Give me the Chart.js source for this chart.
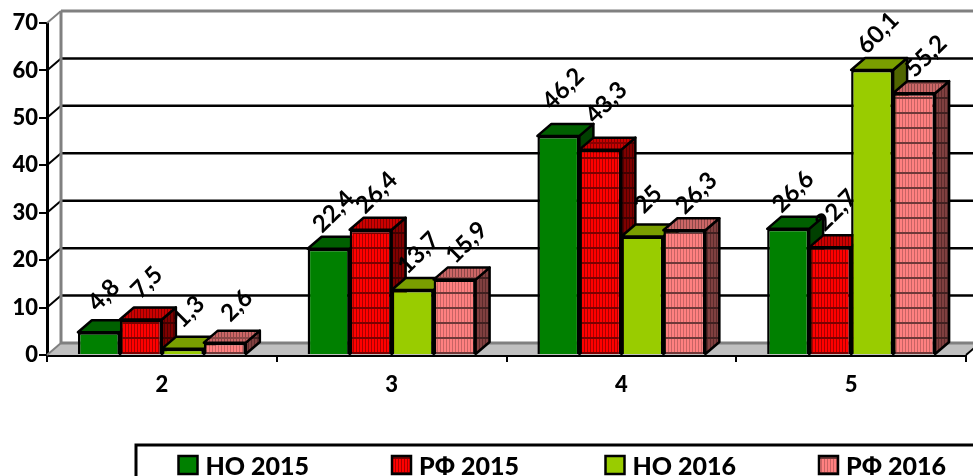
<!DOCTYPE html>
<html>
<head>
<meta charset="utf-8">
<style>
    html, body { margin: 0; padding: 0; background: #fff; overflow: hidden; }
    canvas { display: block; }
</style>
<script src="https://cdn.jsdelivr.net/npm/chart.js@4/dist/chart.umd.min.js"></script>
</head>
<body>
<canvas id="dataChart" width="973" height="476"></canvas>
<script>
const categories = ['2', '3', '4', '5'];
const seriesNames = ['НО 2015', 'РФ 2015', 'НО 2016', 'РФ 2016'];
const no2015 = [4.8, 22.4, 46.2, 26.6];
const rf2015 = [7.5, 26.4, 43.3, 22.7];
const no2016 = [1.3, 13.7, 25, 60.1];
const rf2016 = [2.6, 15.9, 26.3, 55.2];

const FONT = 'Lato, "Noto Sans", sans-serif';
//depth of the fake 3d box
const DX = 14;
const DY = 12;
//how far right of its bar each series puts its value label
const LABEL_SHIFT = [5, 6, 6, 12];

//Vertical hatch with a horizontal line, used for the РФ bars
function hatch(bg, vline, hline) {
    const c = document.createElement('canvas');
    c.width = 3;
    c.height = 15;
    const g = c.getContext('2d');
    g.fillStyle = bg;
    g.fillRect(0, 0, 3, 15);
    g.fillStyle = vline;
    g.fillRect(2, 0, 1, 15);
    g.fillStyle = hline;
    g.fillRect(0, 7, 3, 2);
    return g.createPattern(c, 'repeat');
}

const fronts = ['#008000', hatch('#ff0000', '#a80000', '#7a0000'), '#99cc00', hatch('#ff8080', '#c86464', '#703838')];
const tops = ['#006000', hatch('#cc0000', '#860000', '#860000'), '#7a9e00', hatch('#cc6666', '#8c4848', '#8c4848')];
const sides = ['#004000', hatch('#800000', '#500000', '#400000'), '#506600', hatch('#804040', '#5c2c2c', '#402020')];

function poly(ctx, pts, fill) {
    ctx.beginPath();
    pts.forEach((p, i) => i ? ctx.lineTo(p[0], p[1]) : ctx.moveTo(p[0], p[1]));
    ctx.closePath();
    ctx.fillStyle = fill;
    ctx.fill();
    ctx.stroke();
}

const box3d = {
    id: 'box3d',
    beforeDatasetsDraw(chart) {
        const ctx = chart.ctx;
        const area = chart.chartArea;
        const y = chart.scales.y;
        ctx.save();

        //floor
        ctx.fillStyle = '#c0c0c0';
        ctx.beginPath();
        ctx.moveTo(area.left, area.bottom);
        ctx.lineTo(area.left + DX, area.bottom - DY);
        ctx.lineTo(area.right + DX, area.bottom - DY);
        ctx.lineTo(area.right, area.bottom);
        ctx.closePath();
        ctx.fill();

        //back wall lines and the slanted bits going back to the axis
        y.ticks.forEach((t) => {
            const py = y.getPixelForValue(t.value);
            const inner = t.value > 0 && t.value < 70;
            ctx.strokeStyle = inner ? '#000' : '#808080';
            ctx.lineWidth = inner ? 2.5 : 3;
            ctx.beginPath();
            ctx.moveTo(area.left + DX, py - DY);
            ctx.lineTo(area.right + DX, py - DY);
            ctx.stroke();
            ctx.lineWidth = 2;
            ctx.beginPath();
            ctx.moveTo(area.left, py);
            ctx.lineTo(area.left + DX, py - DY);
            ctx.stroke();
        });
        ctx.strokeStyle = '#808080';
        ctx.lineWidth = 3;
        ctx.beginPath();
        ctx.moveTo(area.left + DX, area.top - DY);
        ctx.lineTo(area.left + DX, area.bottom - DY);
        ctx.stroke();
        ctx.strokeStyle = '#000';
        ctx.lineWidth = 2;
        ctx.beginPath();
        ctx.moveTo(area.right, area.bottom);
        ctx.lineTo(area.right + DX, area.bottom - DY);
        ctx.stroke();

        //top and side of every bar, the fronts get painted over them afterwards
        chart.data.datasets.forEach((ds, d) => {
            chart.getDatasetMeta(d).data.forEach((bar) => {
                const l = bar.x - bar.width / 2;
                const r = bar.x + bar.width / 2;
                ctx.strokeStyle = '#000';
                ctx.lineWidth = 2.5;
                ctx.lineJoin = 'round';
                poly(ctx, [[r, bar.y], [r + DX, bar.y - DY], [r + DX, bar.base - DY], [r, bar.base]], sides[d]);
                poly(ctx, [[l, bar.y], [l + DX, bar.y - DY], [r + DX, bar.y - DY], [r, bar.y]], tops[d]);
            });
        });

        //value labels, painted under the fronts because the 22,7 is cut by the next bar
        chart.data.datasets.forEach((ds, d) => {
            chart.getDatasetMeta(d).data.forEach((bar, i) => {
                //the two tall bars of category 4 have their labels pushed up a bit more
                const lift = (i === 2 && d < 2) ? 47 : 37;
                ctx.save();
                ctx.translate(bar.x + LABEL_SHIFT[d], bar.y - lift);
                ctx.rotate(-Math.PI / 4);
                ctx.font = 'bold 24px ' + FONT;
                ctx.fillStyle = '#000';
                ctx.textAlign = 'center';
                ctx.textBaseline = 'middle';
                ctx.fillText(String(ds.data[i]).replace('.', ','), 0, 0);
                ctx.restore();
            });
        });
        ctx.restore();
    },
    afterDraw(chart) {
        const ctx = chart.ctx;
        ctx.save();
        //legend frame runs off the page like in the original
        ctx.strokeStyle = '#000';
        ctx.lineWidth = 3;
        ctx.strokeRect(136, 445, 1000, 100);
        ctx.font = '900 25px ' + FONT;
        ctx.textBaseline = 'alphabetic';
        seriesNames.forEach((name, i) => {
            const x = 178.5 + i * 213.5;
            ctx.fillStyle = fronts[i];
            ctx.fillRect(x, 456, 19, 18);
            ctx.lineWidth = 2.5;
            ctx.strokeRect(x, 456, 19, 18);
            ctx.fillStyle = '#000';
            ctx.fillText(name, x + 27, 475);
        });
        ctx.restore();
    }
};

const dataChart = new Chart(document.getElementById('dataChart'), {
    type: 'bar',
    data: {
        labels: categories,
        datasets: [no2015, rf2015, no2016, rf2016].map((vals, i) => ({
            label: seriesNames[i],
            data: vals,
            backgroundColor: fronts[i],
            borderColor: '#000',
            borderWidth: 2.5,
            barPercentage: 1,
            categoryPercentage: 0.731
        }))
    },
    options: {
        responsive: false,
        animation: false,
        layout: { padding: { top: 23, right: 7, left: 0, bottom: 0 } },
        plugins: { legend: { display: false }, tooltip: { enabled: false } },
        scales: {
            x: {
                afterFit: (s) => { s.height = 121; },
                grid: { drawOnChartArea: false, color: '#000', lineWidth: 2, tickLength: 7, offset: true },
                border: { color: '#000', width: 3 },
                ticks: { color: '#000', font: { family: FONT, size: 22, weight: '900' }, padding: 10, maxRotation: 0 }
            },
            y: {
                min: 0,
                max: 70,
                afterFit: (s) => { s.width = 47; },
                grid: { drawOnChartArea: false, color: '#000', lineWidth: 2, tickLength: 8 },
                border: { color: '#000', width: 3 },
                ticks: { stepSize: 10, color: '#000', font: { family: FONT, size: 22, weight: '900' }, padding: 1 }
            }
        }
    },
    plugins: [box3d]
});
</script>
</body>
</html>
